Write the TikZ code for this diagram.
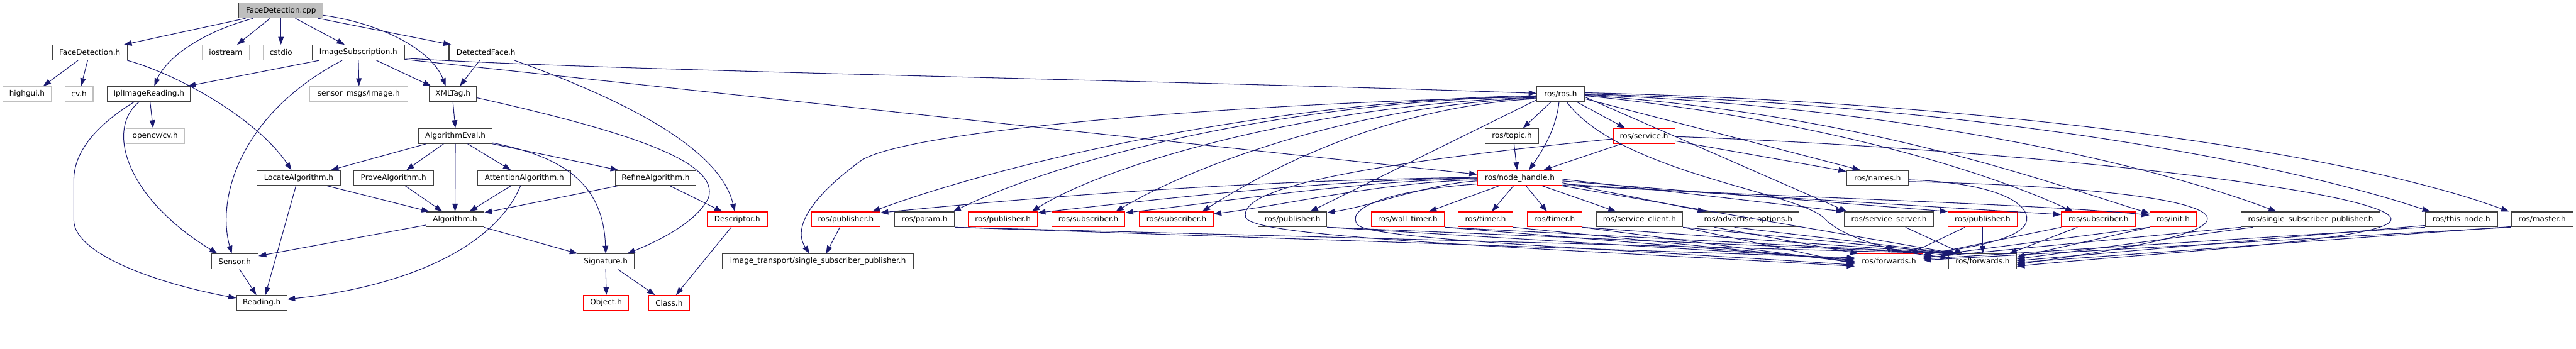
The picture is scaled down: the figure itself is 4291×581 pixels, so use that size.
\documentclass[tikz,border=0pt]{standalone}
\usepackage{fontspec}
\setmainfont{DejaVu Sans}
\usetikzlibrary{arrows.meta,calc}
\definecolor{eb}{HTML}{191970}
\definecolor{gb}{HTML}{BFBFBF}
\definecolor{db}{HTML}{404040}
\newcommand{\bx}[6]{\pgfmathsetmacro{\bxw}{(#3-#2)*0.5}\pgfmathsetmacro{\bxc}{(#2+#3)/2}\node[#6, minimum width=\bxw pt] (#1) at (\bxc,#4) {#5};}
\newcommand{\ed}[4]{\draw[e] ($(#1.south)+(#2,0)$) -- ($(#3.north)+(#4,0)$);}
\tikzset{
  nbox/.style={draw=db, fill=white, line width=0.6pt, inner sep=0pt, minimum height=12.5pt, font=\fontsize{6.3}{7}\selectfont, text=black},
  nblk/.style={nbox},
  ngry/.style={nbox, draw=gb},
  nred/.style={nbox, draw=red},
  nroot/.style={nbox, fill=gb},
  e/.style={draw=eb, line width=0.55pt, -{Triangle[length=6.5pt,width=4.6pt]}}
}
\begin{document}
\begin{tikzpicture}[x=0.5pt,y=-0.5pt]
\useasboundingbox (0,0) rectangle (4291,581);
% rows 17.5 87.5 156.5 226.5 296.5 365.5 435.5 504.5
\bx{cpp}{398}{538}{17.5}{FaceDetection.cpp}{nroot}
\bx{fdh}{87}{212}{87.5}{FaceDetection.h}{nblk}
\bx{ios}{337}{415}{87.5}{iostream}{ngry}
\bx{cst}{438}{498}{87.5}{cstdio}{ngry}
\bx{isub}{520}{674}{87.5}{ImageSubscription.h}{nblk}
\bx{dfh}{748}{871}{87.5}{DetectedFace.h}{nblk}
\bx{hg}{5}{85}{156.5}{highgui.h}{ngry}
\bx{cvh}{108}{155}{156.5}{cv.h}{ngry}
\bx{iplr}{179}{317}{156.5}{IplImageReading.h}{nblk}
\bx{smi}{516}{679}{156.5}{sensor\_msgs/Image.h}{ngry}
\bx{xml}{715}{794}{156.5}{XMLTag.h}{nblk}
\bx{ros}{2560}{2639}{156.5}{ros/ros.h}{nblk}
\bx{ocv}{210}{307}{226.5}{opencv/cv.h}{ngry}
\bx{aev}{697}{820}{226.5}{AlgorithmEval.h}{nblk}
\bx{top}{2474}{2563}{226.5}{ros/topic.h}{nblk}
\bx{srv}{2687}{2790}{226.5}{ros/service.h}{nred}
\bx{loc}{428}{567}{296.5}{LocateAlgorithm.h}{nblk}
\bx{prv}{589}{722}{296.5}{ProveAlgorithm.h}{nblk}
\bx{att}{796}{951}{296.5}{AttentionAlgorithm.h}{nblk}
\bx{ref}{1025}{1159}{296.5}{RefineAlgorithm.h}{nblk}
\bx{nh}{2461}{2602}{296.5}{ros/node\_handle.h}{nred}
\bx{nam}{3076}{3179}{296.5}{ros/names.h}{nblk}
\bx{alg}{710}{806}{365.5}{Algorithm.h}{nblk}
\bx{des}{1178}{1278}{365.5}{Descriptor.h}{nred}
\bx{pub1}{1352}{1466}{365.5}{ros/publisher.h}{nred}
\bx{par}{1490}{1590}{365.5}{ros/param.h}{nblk}
\bx{pub2}{1613}{1728}{365.5}{ros/publisher.h}{nred}
\bx{sub1}{1752}{1874}{365.5}{ros/subscriber.h}{nred}
\bx{sub2}{1898}{2021}{365.5}{ros/subscriber.h}{nred}
\bx{pub3}{2096}{2210}{365.5}{ros/publisher.h}{nblk}
\bx{wt}{2284}{2406}{365.5}{ros/wall\_timer.h}{nred}
\bx{tm1}{2429}{2520}{365.5}{ros/timer.h}{nred}
\bx{tm2}{2544}{2635}{365.5}{ros/timer.h}{nred}
\bx{sc}{2659}{2803}{365.5}{ros/service\_client.h}{nblk}
\bx{ao}{2827}{2997}{365.5}{ros/advertise\_options.h}{nblk}
\bx{ss}{3072}{3221}{365.5}{ros/service\_server.h}{nblk}
\bx{pub4}{3245}{3360}{365.5}{ros/publisher.h}{nred}
\bx{sub3}{3434}{3557}{365.5}{ros/subscriber.h}{nred}
\bx{init}{3581}{3659}{365.5}{ros/init.h}{nred}
\bx{ssp}{3733}{3965}{365.5}{ros/single\_subscriber\_publisher.h}{nblk}
\bx{tn}{4040}{4160}{365.5}{ros/this\_node.h}{nblk}
\bx{mst}{4183}{4286}{365.5}{ros/master.h}{nblk}
\bx{sen}{352}{430}{435.5}{Sensor.h}{nblk}
\bx{sig}{961}{1057}{435.5}{Signature.h}{nblk}
\bx{itp}{1203}{1522}{435.5}{image\_transport/single\_subscriber\_publisher.h}{nblk}
\bx{fr}{3090}{3203}{435.5}{ros/forwards.h}{nred}
\bx{fb}{3246}{3359}{435.5}{ros/forwards.h}{nblk}
\bx{rd}{394}{478}{504.5}{Reading.h}{nblk}
\bx{obj}{972}{1047}{504.5}{Object.h}{nred}
\bx{cls}{1080}{1149}{504.5}{Class.h}{nred}
% ---- left part edges
\draw[e] ($(cpp.south)+(-59,0)$) -- ($(fdh.north)+(57,0)$);
\draw[e] ($(cpp.south)+(-46,0)$) .. controls (330,55) and (275,100) .. ($(iplr.north)+(9,0)$);
\ed{cpp}{-18}{ios}{19}
\ed{cpp}{0}{cst}{0}
\ed{cpp}{24}{isub}{-23}
\draw[e] ($(cpp.south)+(62,0)$) -- ($(dfh.north)+(-58,0)$);
\draw[e] ($(cpp.east)+(0,8)$) .. controls (640,40) and (720,85) .. ($(xml.north)+(-12,0)$);
\ed{fdh}{-19.5}{hg}{27}
\ed{fdh}{-3.5}{cvh}{3.5}
\draw[e] ($(fdh.south)+(62.5,0)$) .. controls (300,125) and (430,200) .. ($(loc.north)+(-12,0)$);
\ed{iplr}{2}{ocv}{-3.5}
\draw[e] ($(iplr.south)+(-16,0)$) .. controls (175,215) and (210,330) .. ($(sen.north)+(-29,0)$);
\draw[e] ($(iplr.south)+(-24,0)$) .. controls (150,215) and (123,260) .. (123,300) -- (123,367) .. controls (123,420) and (250,470) .. ($(rd.west)+(0,-8)$);
\draw[e] ($(isub.south)+(-65,0)$) -- ($(iplr.north)+(65,0)$);
\draw[e] ($(isub.south)+(-27,0)$) .. controls (400,190) and (360,330) .. ($(sen.north)+(-5,0)$);
\ed{isub}{0}{smi}{0.5}
\ed{isub}{30}{xml}{-36.5}
\draw[e] ($(isub.east)+(0,9.5)$) .. controls (1000,118) and (2000,135) .. ($(ros.west)+(0,-1)$);
\draw[e] ($(isub.east)+(0,11.5)$) -- ($(nh.west)+(0,-6)$);
\ed{dfh}{-10.5}{xml}{11.5}
\draw[e] ($(dfh.south)+(47.5,0)$) .. controls (1050,170) and (1200,250) .. ($(des.north)+(-4,0)$);
\draw[e] (xml.south) -- (aev.north);
\draw[e] ($(xml.east)+(0,6.5)$) .. controls (1050,220) and (1200,270) .. (1180,330) .. controls (1160,370) and (1100,400) .. ($(sig.north)+(36,0)$);
\ed{aev}{-48.5}{loc}{53.5}
\ed{aev}{-19.5}{prv}{21.5}
\ed{aev}{0}{alg}{0}
\ed{aev}{20.5}{att}{-22.5}
\ed{aev}{61.5}{ref}{-62}
\draw[e] ($(aev.east)+(0,11.5)$) .. controls (930,260) and (1005,300) .. (sig.north);
\ed{loc}{47.5}{alg}{-43}
\ed{prv}{19.5}{alg}{-21}
\ed{att}{-22.5}{alg}{24}
\draw[e] ($(ref.south)+(-63,0)$) -- ($(alg.north east)+(0,2)$);
\ed{ref}{24}{des}{-25}
\draw[e] ($(att.south)+(-6.5,0)$) .. controls (830,400) and (700,475) .. ($(rd.east)+(0,-6)$);
\ed{loc}{-4.5}{rd}{6}
\draw[e] ($(alg.west)+(0,9.5)$) -- ($(sen.north east)+(0,4)$);
\ed{alg}{48}{sig}{-47}
\ed{sen}{8}{rd}{-9}
\ed{sig}{0}{obj}{0.5}
\ed{sig}{20}{cls}{-23.5}
\ed{des}{-10}{cls}{11.5}
% ---- ros part
\ed{ros}{-15.5}{top}{18.5}
\draw[e] ($(ros.south)+(-2.5,0)$) .. controls (2592,215) and (2570,250) .. ($(nh.north)+(15.5,0)$);
\ed{top}{3.5}{nh}{-4.5}
\ed{ros}{26.5}{srv}{-31.5}
\ed{srv}{-37.5}{nh}{39.5}
\draw[e] ($(ros.east)+(0,8)$) -- ($(nam.north)+(-28.5,0)$);
\draw[e] ($(srv.east)+(0,8.5)$) -- ($(nam.west)+(0,-11)$);
% ros -> left row 5
\draw[e] ($(ros.west)+(0,3)$) .. controls (2150,165) and (1700,262) .. ($(pub1.north)+(44,0)$);
\draw[e] ($(ros.west)+(0,5)$) .. controls (2100,170) and (1500,215) .. (1431,270) .. controls (1350,330) and (1320,380) .. ($(itp.north)+(-14,0)$);
\draw[e] ($(ros.west)+(0,4)$) .. controls (2180,168) and (1800,250) .. ($(par.north east)+(-3,0)$);
\draw[e] ($(ros.west)+(0,6)$) .. controls (2200,172) and (1850,270) .. ($(pub2.north east)+(-10,0)$);
\draw[e] ($(ros.west)+(0,7)$) .. controls (2250,175) and (1980,280) .. ($(sub1.north east)+(-16,0)$);
\draw[e] ($(ros.west)+(0,8)$) .. controls (2300,178) and (2100,290) .. ($(sub2.north east)+(-19,0)$);
\draw[e] ($(ros.west)+(0,10)$) -- ($(pub3.north east)+(-28,0)$);
\ed{pub1}{-10}{itp}{13.5}
% nh -> left row 5
\draw[e] ($(nh.west)+(0,-1)$) .. controls (2100,300) and (1760,325) .. ($(pub1.north east)+(0,2)$);
\draw[e] ($(nh.west)+(0,0)$) .. controls (2200,300) and (1950,330) .. ($(pub2.north east)+(0,2)$);
\draw[e] ($(nh.west)+(0,1)$) .. controls (2250,302) and (2050,335) .. ($(sub1.north east)+(0,2)$);
\draw[e] ($(nh.west)+(0,3)$) .. controls (2300,304) and (2150,340) .. ($(sub2.north east)+(0,4)$);
\draw[e] ($(nh.west)+(0,5)$) .. controls (2380,306) and (2290,342) .. ($(pub3.north east)+(0,2)$);
\ed{nh}{-34.5}{wt}{35}
\ed{nh}{-10.5}{tm1}{10.5}
\ed{nh}{10.5}{tm2}{-12.5}
\ed{nh}{37.5}{sc}{-39}
\draw[e] ($(nh.east)+(0,8)$) -- ($(ao.north)+(-71,0)$);
\draw[e] ($(nh.east)+(0,2)$) -- (ss.north west);
\draw[e] ($(ros.east)+(0,5)$) -- ($(ss.north)+(-70,0)$);
\draw[e] ($(nh.east)+(0,5)$) -- (pub4.north west);
\draw[e] ($(nh.east)+(0,10)$) -- ($(sub3.west)+(0,-8)$);
\draw[e] ($(ros.east)+(0,3)$) .. controls (2950,190) and (3250,260) .. ($(sub3.north)+(-42,0)$);
\draw[e] ($(ros.east)+(0,2)$) .. controls (3100,190) and (3400,300) .. ($(init.west)+(0,-10)$);
\draw[e] ($(nh.east)+(0,12)$) .. controls (3000,330) and (3400,340) .. ($(init.west)+(0,-7)$);
\draw[e] ($(ros.east)+(0,1)$) .. controls (3200,180) and (3600,280) .. ($(ssp.north)+(-57,0)$);
\draw[e] ($(ros.east)+(0,0)$) .. controls (3300,175) and (3800,270) .. ($(tn.north)+(-52,0)$);
\draw[e] ($(ros.east)+(0,-2)$) .. controls (3300,170) and (3900,250) .. ($(mst.north west)+(-3,0)$);
% ---- forwards
\draw[e] (par.south east) -- ($(fr.west)+(0,-6)$);
\draw[e] (pub3.south east) -- ($(fr.west)+(0,-4)$);
\draw[e] (wt.south east) -- ($(fr.west)+(0,-2)$);
\draw[e] (tm1.south east) -- ($(fr.west)+(0,0)$);
\draw[e] (tm2.south east) -- ($(fr.west)+(0,2)$);
\draw[e] (sc.south east) -- ($(fr.west)+(0,4)$);
\draw[e] (par.south east) -- ($(fb.north west)+(3,0)$);
\draw[e] (pub3.south east) -- ($(fb.north west)+(5,0)$);
\draw[e] (wt.south east) -- ($(fb.north west)+(7,0)$);
\draw[e] (tm2.south east) -- ($(fb.north west)+(9,0)$);
\draw[e] (sc.south east) -- ($(fb.north west)+(11,0)$);
\draw[e] (nh.south east) -- ($(fb.north west)+(13,0)$);
\draw[e] ($(ao.south)+(-56,0)$) -- ($(fr.north west)+(6,0)$);
\draw[e] ($(ao.south)+(-23,0)$) -- ($(fb.north west)+(15,0)$);
\ed{ss}{0}{fr}{0}
\draw[e] ($(ss.south)+(27.5,0)$) -- ($(fb.north west)+(24,0)$);
\draw[e] ($(pub4.south)+(-29.5,0)$) -- ($(fr.north east)+(-22,0)$);
\ed{pub4}{0}{fb}{0}
\draw[e] (sub3.south west) -- ($(fr.east)+(0,-10)$);
\draw[e] ($(sub3.south)+(-35,0)$) -- ($(fb.north east)+(-13,0)$);
\draw[e] (init.south west) -- ($(fr.east)+(0,-8)$);
\draw[e] (init.south west) -- ($(fb.east)+(0,-7)$);
\draw[e] (ssp.south west) -- ($(fr.east)+(0,-6)$);
\draw[e] ($(ssp.south west)+(20,0)$) -- ($(fb.east)+(0,-4)$);
\draw[e] (tn.south west) -- ($(fr.east)+(0,-4)$);
\draw[e] ($(tn.south west)+(0,-3)$) -- ($(fb.east)+(0,-1)$);
\draw[e] (mst.south west) -- ($(fr.east)+(0,-2)$);
\draw[e] ($(mst.south west)+(0,-1)$) -- ($(fb.east)+(0,2)$);
% loops
\draw[e] ($(nh.west)+(0,10)$) .. controls (2300,318) and (2240,350) .. (2262,375) .. controls (2290,400) and (2700,415) .. ($(fr.west)+(0,6)$);
\draw[e] ($(srv.west)+(0,5)$) .. controls (2300,270) and (2060,310) .. (2075,362) .. controls (2085,395) and (2500,410) .. ($(fr.west)+(0,8)$);
\draw[e] ($(nam.east)+(0,3)$) .. controls (3330,305) and (3380,340) .. (3376,367) .. controls (3372,395) and (3300,410) .. ($(fr.east)+(0,-11)$);
\draw[e] ($(nam.east)+(0,6)$) .. controls (3500,310) and (3680,335) .. (3677,365) .. controls (3674,395) and (3500,420) .. ($(fb.east)+(0,5)$);
\draw[e] ($(srv.east)+(0,1)$) .. controls (3400,250) and (3980,320) .. (3983,365) .. controls (3986,400) and (3600,420) .. ($(fb.east)+(0,8)$);
\draw[e] ($(ros.south)+(10,0)$) .. controls (2700,290) and (3000,320) .. (3040,365) .. controls (3070,395) and (3150,420) .. ($(fb.west)+(0,-6)$);
\end{tikzpicture}
\end{document}
